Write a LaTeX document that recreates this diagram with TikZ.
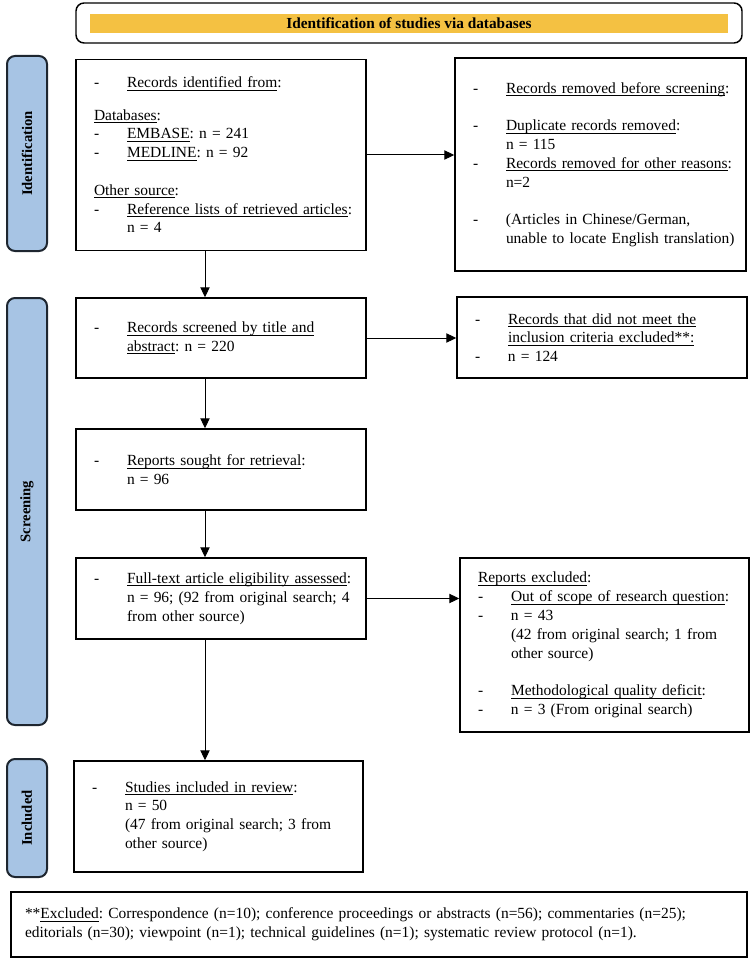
\documentclass[tikz,border=0pt]{standalone}
\usepackage{fontspec}
\setmainfont{Liberation Serif}
\usetikzlibrary{arrows.meta}

\definecolor{bannerfill}{HTML}{F4C142}
\definecolor{stagefill}{HTML}{A7C4E4}
\definecolor{stageline}{HTML}{1E2630}

\newcommand{\undl}[1]{\leavevmode\setbox0\hbox{#1}\rlap{\rule[-2.1pt]{\wd0}{0.55pt}}\box0}
\newcommand{\dashrow}[1]{\mbox{\makebox[24.75pt][l]{-}#1}}
\newcommand{\gaprow}[1]{\mbox{\hspace*{24.75pt}#1}}

\tikzset{
  flowbox/.style={draw, line width=1.1pt, align=left, inner xsep=13.5pt, inner ysep=0pt,
    font=\fontsize{11.6}{14.1}\selectfont\frenchspacing, text width=190.5pt},
  stagebar/.style={draw=stageline, fill=stagefill, line width=1.5pt, rounded corners=6pt,
    rotate=90, minimum height=30pt, inner sep=0pt, font=\fontsize{11}{13}\selectfont\bfseries},
  flowarrow/.style={->, line width=0.75pt},
}

\begin{document}
\begin{tikzpicture}[x=0.75pt, y=-0.75pt, >={Triangle[length=7.5pt,width=7pt]}]
            \useasboundingbox (0,0) rectangle (753,959);

            \node[draw, line width=1.1pt, rounded corners=6pt, minimum width=499.5pt, minimum height=30pt] (hdr) at (409,23) {};
            \node[fill=bannerfill, minimum width=478.5pt, minimum height=14.25pt, inner sep=0pt,
                  font=\fontsize{11.5}{13}\selectfont\bfseries] (hdrtext) at (409,23.5) {Identification of studies via databases};

            \node[stagebar, minimum width=146.25pt] (ident) at (27,153.5) {Identification};
            \node[stagebar, minimum width=320.25pt] (screen) at (27,511.5) {Screening};
            \node[stagebar, minimum width=88.5pt] (incl) at (27,818) {Included};

            \node[flowbox, minimum height=143.25pt] (found) at (221,155) {
              \dashrow{\undl{Records identified from}:}\\[10pt]
              \undl{Databases}:\\
              \dashrow{\undl{EMBASE}: n = 241}\\
              \dashrow{\undl{MEDLINE}: n = 92}\\[14.1pt]
              \undl{Other source}:\\
              \dashrow{\undl{Reference lists of retrieved articles}:}\\
              \gaprow{n = 4}};
            \node[flowbox, minimum height=159.75pt, text width=191.25pt] (removed) at (600.5,164.5) {
              \dashrow{\undl{Records removed before screening}:}\\[14.1pt]
              \dashrow{\undl{Duplicate records removed}:}\\
              \gaprow{n = 115}\\
              \dashrow{\undl{Records removed for other reasons}:}\\
              \gaprow{n=2}\\[14.1pt]
              \dashrow{(Articles in Chinese/German,}\\
              \gaprow{unable to locate English translation)}};

            \node[flowbox, minimum height=60pt] (screened) at (221,338) {
              \dashrow{\undl{Records screened by title and}}\\
              \gaprow{\undl{abstract}: n = 220}};
            \node[flowbox, minimum height=60.75pt] (notmet) at (602,337.5) {
              \dashrow{\undl{Records that did not meet the}}\\
              \gaprow{\undl{inclusion criteria excluded**:}}\\
              \dashrow{n = 124}};

            \node[flowbox, minimum height=60.75pt] (sought) at (221,469.5) {
              \dashrow{\undl{Reports sought for retrieval}:}\\
              \gaprow{n = 96}};

            \node[flowbox, minimum height=60.75pt] (assessed) at (221,598.5) {
              \dashrow{\undl{Full-text article eligibility assessed}:}\\
              \gaprow{n = 96; (92 from original search; 4}\\
              \gaprow{from other source)}};
            \node[flowbox, minimum height=130.5pt, text width=189.75pt] (excluded) at (604.5,645) {
              \undl{Reports excluded}:\\
              \dashrow{\undl{Out of scope of research question}:}\\
              \dashrow{n = 43}\\
              \gaprow{(42 from original search; 1 from}\\
              \gaprow{other source)}\\[14.1pt]
              \dashrow{\undl{Methodological quality deficit}:}\\
              \dashrow{n = 3 (From original search)}};

            \node[flowbox, minimum height=83.25pt, text width=189.75pt] (studies) at (218.5,816.5) {
              \dashrow{\undl{Studies included in review}:}\\
              \gaprow{n = 50}\\
              \gaprow{(47 from original search; 3 from}\\
              \gaprow{other source)}};

            \node[flowbox, minimum height=48.75pt, text width=531pt, inner xsep=10.5pt] (note) at (379,924.5) {
              \mbox{**\undl{Excluded}: Correspondence (n=10); conference proceedings or abstracts (n=56); commentaries (n=25);}\\
              editorials (n=30); viewpoint (n=1); technical guidelines (n=1); systematic review protocol (n=1).};

            \coordinate (spine) at (205,0);
            \draw[flowarrow] (found.east) -- (found.east -| removed.west);
            \draw[flowarrow] (screened.east) -- (screened.east -| notmet.west);
            \draw[flowarrow] (assessed.east) -- (assessed.east -| excluded.west);
            \draw[flowarrow] (found.south -| spine) -- (screened.north -| spine);
            \draw[flowarrow] (screened.south -| spine) -- (sought.north -| spine);
            \draw[flowarrow] (sought.south -| spine) -- (assessed.north -| spine);
            \draw[flowarrow] (assessed.south -| spine) -- (studies.north -| spine);
\end{tikzpicture}
\end{document}
